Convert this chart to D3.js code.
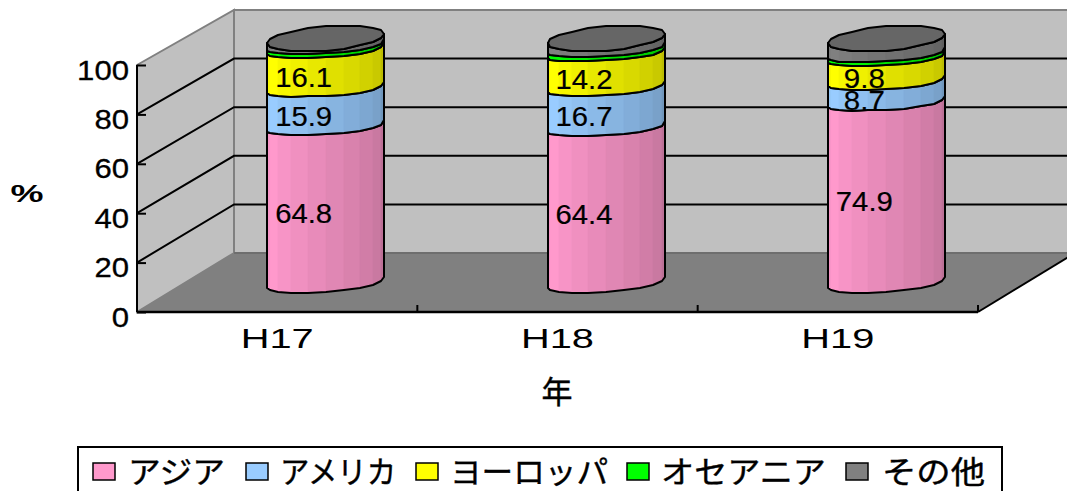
<!DOCTYPE html>
<html lang="ja">
<head>
<meta charset="utf-8">
<style>
  html, body { margin: 0; padding: 0; background: #fff; overflow: hidden; }
  svg { display: block; }
  text { fill: #000; }
</style>
<script src="https://cdn.jsdelivr.net/npm/d3@7"></script>
</head>
<body>
<svg id="chart" width="1067" height="491"></svg>
<script>
// Share of each region per fiscal year (%)
const years = ["H17", "H18", "H19"];
const regions = ["アジア", "アメリカ", "ヨーロッパ", "オセアニア", "その他"];
const asia = [64.8, 64.4, 74.9];
const america = [15.9, 16.7, 8.7];
const europe = [16.1, 14.2, 9.8];
const oceania = [1.6, 1.8, 1.6];
const other = [1.6, 2.9, 5.0];
const regionColors = ["#FF99CC", "#99CCFF", "#FFFF00", "#00FF00", "#808080"];
const yTicks = [0, 20, 40, 60, 80, 100];
// Which series carry a printed value
const labelled = [true, true, true, false, false];

const series = [asia, america, europe, oceania, other];
const svg = d3.select("#chart");

// Oblique box: front plane plus a depth offset for the back wall
const front = { left: 137, right: 978, bottom: 312, top: 65 };
const back = { left: 234, right: 1075, bottom: 253, top: 10 };

const yFront = d3.scaleLinear().domain([0, 100]).range([front.bottom, front.top]);
const yBack = d3.scaleLinear().domain([0, 100]).range([back.bottom, back.top]);
const xBand = d3.scaleBand().domain(years).range([front.left, front.right]);
const xEdges = d3.scalePoint().domain(d3.range(years.length + 1)).range([front.left, front.right]);

const poly = pts => "M" + pts.map(p => p.join(",")).join("L") + "Z";

// Walls and floor
svg.append("path").attr("d", poly([[back.left, back.top], [back.right, back.top], [back.right, back.bottom], [back.left, back.bottom]]))
  .attr("fill", "#C0C0C0").attr("stroke", "#808080").attr("stroke-width", 2);
svg.append("path").attr("d", poly([[front.left, front.top], [back.left, back.top], [back.left, back.bottom], [front.left, front.bottom]]))
  .attr("fill", "#C0C0C0").attr("stroke", "#808080").attr("stroke-width", 2);
svg.append("path").attr("d", poly([[front.left, front.bottom], [front.right, front.bottom], [back.right, back.bottom], [back.left, back.bottom]]))
  .attr("fill", "#808080");
svg.append("line").attr("x1", back.left).attr("y1", back.bottom).attr("x2", back.right).attr("y2", back.bottom)
  .attr("stroke", "#6e6e6e").attr("stroke-width", 2);
svg.append("line").attr("x1", front.right).attr("y1", front.bottom).attr("x2", back.right).attr("y2", back.bottom)
  .attr("stroke", "#000").attr("stroke-width", 2);

// Gridlines wrap around the left wall and the back wall
const grid = svg.append("g").attr("fill", "none").attr("stroke", "#000").attr("stroke-width", 2);
yTicks.filter(t => t > 0 && t < 100).forEach(t => {
  grid.append("path").attr("d", `M${front.left},${yFront(t)}L${back.left},${yBack(t)}L${back.right},${yBack(t)}`);
});

// Axes
const yAxis = d3.axisLeft(yFront).tickValues(yTicks).tickSize(-9).tickPadding(8);
const yG = svg.append("g").attr("transform", `translate(${front.left},0)`).call(yAxis);
yG.select(".domain").attr("stroke", "#000").attr("stroke-width", 2).attr("d", `M0,${front.top}V${front.bottom}`);
yG.selectAll(".tick line").attr("stroke", "#000").attr("stroke-width", 2);
yG.selectAll(".tick text")
  .attr("font-family", "Liberation Sans").attr("font-size", 28).attr("fill", "#000")
  .attr("dy", "0.5em").attr("stroke", "#000").attr("stroke-width", 0.3)
  .attr("textLength", t => String(t).length * 17.3).attr("lengthAdjust", "spacingAndGlyphs");

const baseline = svg.append("g");
baseline.append("line").attr("x1", front.left).attr("x2", front.right).attr("y1", front.bottom).attr("y2", front.bottom)
  .attr("stroke", "#000").attr("stroke-width", 2.5);
baseline.selectAll("line.edge").data(xEdges.domain().slice(1)).join("line").attr("class", "edge")
  .attr("x1", xEdges).attr("x2", xEdges).attr("y1", front.bottom).attr("y2", front.bottom - 7)
  .attr("stroke", "#000").attr("stroke-width", 2);

// Cylinder cross-section: a polygon projected through the same oblique depth
const depthRatio = (back.left - front.left) / (front.bottom - back.bottom);
const ry = 13, rDepth = ry * depthRatio, halfWidth = 58.5;
const rx = Math.sqrt(halfWidth * halfWidth - rDepth * rDepth);
const facets = 20;
const t0 = Math.atan2(rDepth, rx);
// The front of the rim is slightly flattened, most of all between the segments
const rimFlatten = [0.5, -1.5, -3, -4, -4.5, -4.5, -3.5, -2.5, -1.5, -1, -1.5];
const ringPoint = (cx, cy, i, flat) => {
  const t = t0 + Math.PI + i * 2 * Math.PI / facets;
  const f = i <= facets / 2 ? rimFlatten[i] * flat : 0;
  return [Math.round(cx + rx * Math.cos(t) + rDepth * Math.sin(t)), Math.round(cy - ry * Math.sin(t) + f)];
};
const shade = [0.97, 1, 0.97, 0.94, 0.91, 0.88, 0.85, 0.82, 0.79, 0.74];

const barDepthDy = (front.bottom - back.bottom) / 2;
const yBar = d3.scaleLinear().domain([0, 100]).range([front.bottom - barDepthDy, front.bottom - barDepthDy - 241]);
const capLift = 3;
const labelX = -22, labelDy = 4;

years.forEach((year, j) => {
  const cx = xBand(year) + xBand.bandwidth() / 2 + (back.left - front.left) / 2;
  const g = svg.append("g");
  let cumulative = 0;
  series.forEach((values, s) => {
    const v0 = cumulative, v1 = cumulative + values[j];
    cumulative = v1;
    const isBase = s === 0, isTop = s === series.length - 1;
    const y0 = yBar(v0), y1 = yBar(v1) - (isTop ? capLift : 0);
    const f0 = isBase ? 0.6 : 1, f1 = isTop ? 0 : 1;
    const base = d3.color(regionColors[s]);
    for (let i = 0; i < facets / 2; i++) {
      const c = d3.rgb(base.r * shade[i], base.g * shade[i], base.b * shade[i]);
      const a = ringPoint(cx, y0, i, f0), b = ringPoint(cx, y0, i + 1, f0);
      const d = ringPoint(cx, y1, i, f1), e = ringPoint(cx, y1, i + 1, f1);
      g.append("path").attr("d", poly([a, b, e, d])).attr("fill", c).attr("stroke", c).attr("stroke-width", 0.6);
    }
    const lower = d3.range(facets / 2 + 1).map(i => ringPoint(cx, y0, i, f0));
    const upper = d3.range(facets / 2 + 1).map(i => ringPoint(cx, y1, i, f1)).reverse();
    g.append("path").attr("d", poly(lower.concat(upper))).attr("fill", "none").attr("stroke", "#000").attr("stroke-width", 2).attr("stroke-linejoin", "round");
    if (isTop) {
      const top = d3.range(facets).map(i => ringPoint(cx, y1, i, 0));
      g.append("path").attr("d", poly(top)).attr("fill", "#666666").attr("stroke", "#000").attr("stroke-width", 2).attr("stroke-linejoin", "round");
    }
  });
  // Printed values sit left of the cylinder's axis
  let acc = 0;
  series.forEach((values, s) => {
    const mid = acc + values[j] / 2;
    acc += values[j];
    if (!labelled[s]) return;
    const txt = values[j].toFixed(1);
    g.append("text").attr("x", cx + labelX).attr("y", yBar(mid) + labelDy + 4.7)
      .attr("dy", "0.36em").attr("text-anchor", "middle")
      .attr("font-family", "Liberation Sans").attr("font-size", 28)
      .attr("stroke", "#000").attr("stroke-width", 0.2)
      .attr("textLength", txt.length === 4 ? 57 : 41).attr("lengthAdjust", "spacingAndGlyphs")
      .text(txt);
  });
});

// Category labels
svg.append("g").selectAll("text").data(years).join("text")
  .attr("x", d => xBand(d) + xBand.bandwidth() / 2).attr("y", 348)
  .attr("text-anchor", "middle").attr("font-family", "Liberation Sans").attr("font-size", 28)
  .attr("textLength", 73).attr("lengthAdjust", "spacingAndGlyphs")
  .text(d => d);

// Axis titles
svg.append("text").attr("x", 27).attr("y", 202).attr("text-anchor", "middle")
  .attr("font-family", "Liberation Sans").attr("font-weight", "bold").attr("font-size", 23)
  .attr("textLength", 33).attr("lengthAdjust", "spacingAndGlyphs").text("%");
svg.append("text").attr("x", 557).attr("y", 403).attr("text-anchor", "middle")
  .attr("font-family", "Noto Sans CJK JP").attr("font-size", 31)
  .attr("stroke", "#000").attr("stroke-width", 0.4).text("年");

// Legend
const legendStarts = [93, 246, 416, 627, 846];
const legendTextX = [128, 280, 450, 661, 882];
const legendTextW = [97, 116, 158, 165, 103];
const legend = svg.append("g");
legend.append("rect").attr("x", 78).attr("y", 447).attr("width", 924).attr("height", 60)
  .attr("fill", "#fff").attr("stroke", "#000").attr("stroke-width", 2);
regions.forEach((r, i) => {
  legend.append("rect").attr("x", legendStarts[i]).attr("y", 463).attr("width", 22).attr("height", 17)
    .attr("fill", regionColors[i]).attr("stroke", "#000").attr("stroke-width", 1.5);
  legend.append("text").attr("x", legendTextX[i]).attr("y", 483)
    .attr("font-family", "Noto Sans CJK JP").attr("font-size", 31)
    .attr("stroke", "#000").attr("stroke-width", 0.4)
    .attr("textLength", legendTextW[i]).attr("lengthAdjust", "spacingAndGlyphs")
    .text(r);
});
</script>
</body>
</html>
